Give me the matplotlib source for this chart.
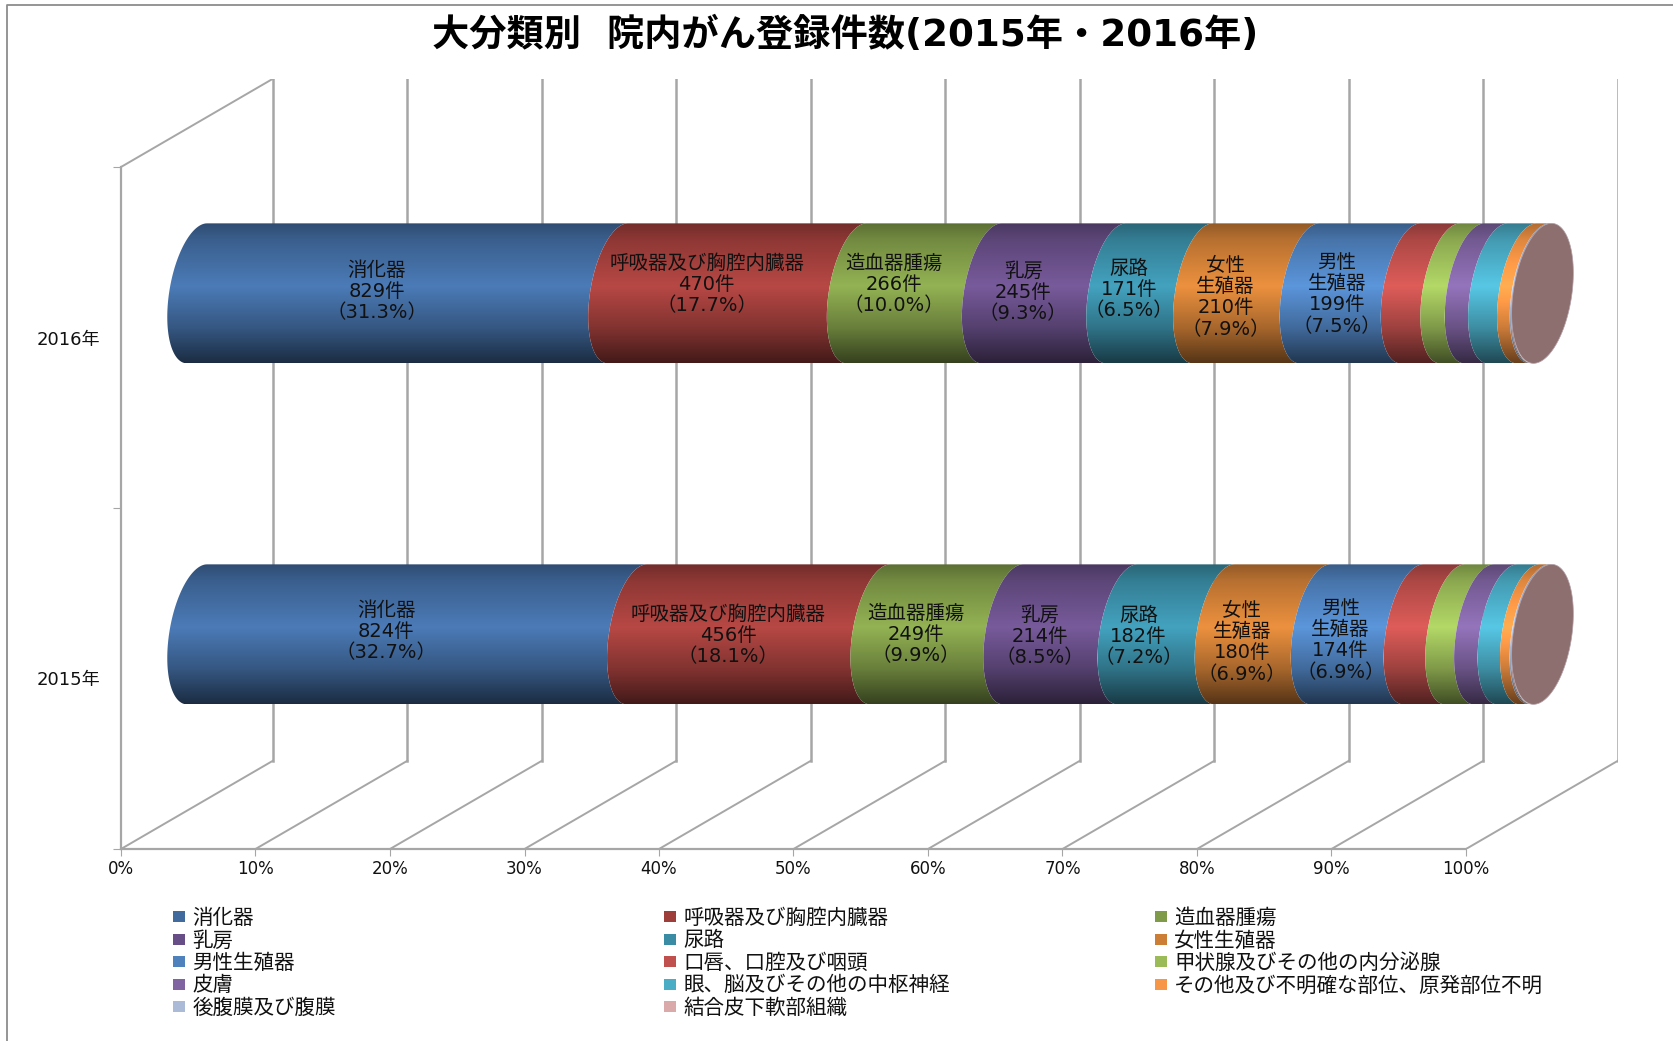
import numpy as np
from matplotlib import pyplot as plt
from matplotlib.colors import to_rgb
from matplotlib.lines import Line2D
from matplotlib.patches import Patch, Polygon

years = ['2015年', '2016年']
categories = [
    '消化器', '呼吸器及び胸腔内臓器', '造血器腫瘍', '乳房', '尿路', '女性生殖器', '男性生殖器',
    '口唇、口腔及び咽頭', '甲状腺及びその他の内分泌腺', '皮膚', '眼、脳及びその他の中枢神経',
    'その他及び不明確な部位、原発部位不明', '後腹膜及び腹膜', '結合皮下軟部組織',
]
counts_2015 = [824, 456, 249, 214, 182, 180, 174, 78, 54, 44, 42, 18, 3, 2]
counts_2016 = [829, 470, 266, 245, 171, 210, 199, 78, 48, 46, 57, 25, 3, 2]
share_2015 = ['32.7', '18.1', '9.9', '8.5', '7.2', '6.9', '6.9']
share_2016 = ['31.3', '17.7', '10.0', '9.3', '6.5', '7.9', '7.5']
label_names = ['消化器', '呼吸器及び胸腔内臓器', '造血器腫瘍', '乳房', '尿路', '女性\n生殖器', '男性\n生殖器']
colors = [
    '#416A9E', '#9E3E3B', '#7F9A48', '#674E86', '#3A8CA5', '#CC7D36', '#4F81BD',
    '#C0504D', '#9BBB59', '#8064A2', '#4BACC6', '#F79646', '#AABAD7', '#D9AAA9',
]

W, H = 1673, 1041
X_PX = 13.45  # pixels per percent
Y_PX = 341.0  # pixels per category
DEPTH_X = 152 / X_PX
DEPTH_Y = 88.3 / Y_PX
FONT = ['DejaVu Sans', 'Noto Sans CJK JP']
GRID = '#a6a6a6'

plt.rcParams['font.family'] = FONT

fig = plt.figure(figsize=(W / 100, H / 100), dpi=100)
ax = fig.add_axes([121 / W, (H - 849) / H, (1618 - 121) / W, (849 - 78.7) / H])
xmax = (1618 - 121) / X_PX
ymax = (849 - 78.7) / Y_PX


def arc(pct, yc):
    # left half of the skewed ellipse that closes the cylinder at pct
    a = 28 / X_PX
    s = 10 / X_PX
    b = 70 / Y_PX
    t = np.radians(np.linspace(90, 270, 60))
    c = DEPTH_X / 2 + pct
    return c + a * np.cos(t) + s * np.sin(t), yc + b * np.sin(t)


def gradient(color):
    pos = np.linspace(0, 1, 200)
    k = np.interp(pos, [0, 0.12, 0.45, 0.75, 1], [0.72, 0.9, 1.16, 0.82, 0.42])
    rgb = np.clip(np.outer(k, to_rgb(color)), 0, 1)
    return rgb[:, np.newaxis, :]


def draw_bar(pos, counts, shares, dx_px, dy_px):
    pct = np.array(counts) / sum(counts) * 100
    edges = np.concatenate([[0], np.cumsum(pct)])
    yc = pos + DEPTH_Y / 2
    b = 70 / Y_PX
    for i, color in enumerate(colors):
        x0, y0 = arc(edges[i], yc)
        x1, y1 = arc(edges[i + 1], yc)
        verts = np.vstack([np.column_stack([x0, y0]), np.column_stack([x1, y1])[::-1]])
        poly = Polygon(verts, closed=True, transform=ax.transData)
        im = ax.imshow(gradient(color), extent=(verts[:, 0].min(), verts[:, 0].max(), yc - b, yc + b),
                       aspect='auto', interpolation='bilinear', zorder=3)
        im.set_clip_path(poly)

    # end cap
    c = DEPTH_X / 2 + 100 + 0.5 / X_PX
    t = np.radians(np.linspace(0, 360, 120))
    a = 29.5 / X_PX
    s = 9 / X_PX
    cap = np.column_stack([c + a * np.cos(t) + s * np.sin(t), yc + b * np.sin(t)])
    ax.add_patch(Polygon(cap, closed=True, fc='#8E6F6F', ec='#b0a0a8', lw=0.5, zorder=4))

    for i, share in enumerate(shares):
        mid = (edges[i] + edges[i + 1]) / 2 + (166.5 - 121 + dx_px[i]) / X_PX
        text = f'{label_names[i]}\n{counts[i]}件\n（{share}%）'
        ax.text(mid, yc + dy_px[i] / Y_PX, text, ha='center', va='center', fontsize=14,
                linespacing=1.15, color='#111111', zorder=5)


# walls and floor
for x in range(0, 101, 10):
    ax.plot([x, x + DEPTH_X], [0, DEPTH_Y], color=GRID, lw=1.4, zorder=1)
    ax.plot([x + DEPTH_X, x + DEPTH_X], [DEPTH_Y, 2 + DEPTH_Y], color=GRID, lw=1.8, zorder=1)
ax.plot([0, DEPTH_X], [2, 2 + DEPTH_Y], color=GRID, lw=1.4, zorder=1)

draw_bar(0.5, counts_2015, share_2015, [0, 0, 0, 0, -6.7, 0, 4], [3, -1, 0, -2, -2.5, -8, -6])
draw_bar(1.5, counts_2016, share_2016, [0, 0, 0, 0, 0, 0, 7.5], [1.5, 8.5, 8.5, 1, 4, -4, -1])

ax.set_xlim(0, xmax)
ax.set_ylim(0, ymax)
ax.patch.set_visible(False)
for side in ['top', 'right']:
    ax.spines[side].set_visible(False)
ax.spines['bottom'].set_bounds(0, 100)
ax.spines['left'].set_bounds(0, 2)
for side in ['bottom', 'left']:
    ax.spines[side].set_color(GRID)
    ax.spines[side].set_linewidth(1.6)
ax.set_xticks(range(0, 101, 10))
ax.set_xticklabels([f'{x}%' for x in range(0, 101, 10)], fontsize=12, color='#111111')
ax.set_yticks([0, 1, 2])
ax.set_yticklabels([])
ax.set_yticks([0.5, 1.5], labels=years, minor=True, fontsize=13, color='#111111')
ax.tick_params(axis='x', length=5, color=GRID, pad=3)
ax.tick_params(axis='y', which='major', length=6, color=GRID)
ax.tick_params(axis='y', which='minor', length=0, pad=15)

fig.text(845 / W, 1 - 36 / H, '大分類別  院内がん登録件数(2015年・2016年)', ha='center', va='center',
         fontsize=26.8, fontweight='bold', color='black')

# legend: one block per column so the columns land where they should
for col, left in enumerate([173, 664, 1155]):
    idx = range(col, len(categories), 3)
    handles = [Patch(fc=colors[i], ec='none', label=categories[i]) for i in idx]
    fig.legend(handles=handles, loc='upper left', bbox_to_anchor=(left / W, 1 - 908 / H), frameon=False,
               fontsize=14.8, borderpad=0, borderaxespad=0, labelspacing=0.12, handlelength=0.58,
               handleheight=0.45, handletextpad=0.35, labelcolor='#111111')

# outer frame of the original picture
fig.add_artist(Line2D([6.5 / W, 6.5 / W, 1], [0, 1 - 4.5 / H, 1 - 4.5 / H], color='#8c8c8c', lw=1.3,
                      transform=fig.transFigure))

fig.savefig('out.png', dpi=100)
